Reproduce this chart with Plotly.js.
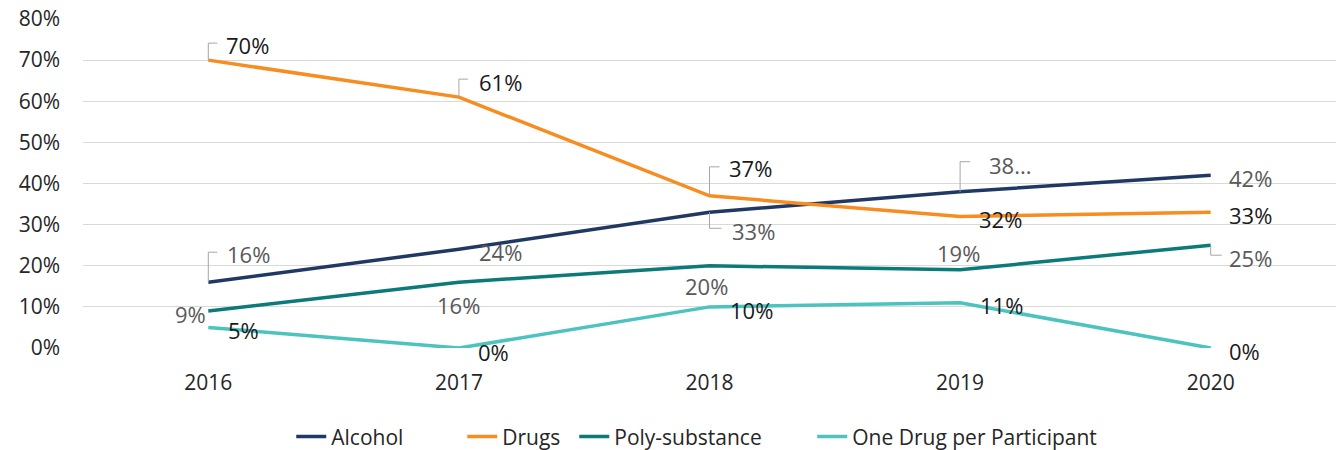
<!DOCTYPE html>
<html>
<head>
<meta charset="utf-8">
<script src="https://cdn.plot.ly/plotly-3.0.1.min.js"></script>
<style>
  html, body { margin: 0; padding: 0; background: #fff; }
  #chart { width: 1336px; height: 450px; }
</style>
</head>
<body>
<div id="chart"></div>
<script>
// Share of cases by substance type, 2016-2020 (percent)
const years = ['2016', '2017', '2018', '2019', '2020'];
const alcohol = [16, 24, 33, 38, 42];
const drugs = [70, 61, 37, 32, 33];
const poly = [9, 16, 20, 19, 25];
const oneDrug = [5, 0, 10, 11, 0];
const yTicks = [0, 10, 20, 30, 40, 50, 60, 70, 80];

const FONT = '"Open Sans", "Noto Sans", sans-serif';
const GREY_LABEL = '#595959';
const DARK_LABEL = '#1a1a1a';

const series = [
  { name: 'Alcohol', values: alcohol, color: '#203864', labelColor: GREY_LABEL, legendWidth: 126 },
  { name: 'Drugs', values: drugs, color: '#F78C20', labelColor: DARK_LABEL, legendWidth: 67 },
  { name: 'Poly-substance', values: poly, color: '#0B7A78', labelColor: GREY_LABEL, legendWidth: 193 },
  { name: 'One Drug per Participant', values: oneDrug, color: '#4CC3BE', labelColor: DARK_LABEL, legendWidth: 260 }
];

// Label placement per series and year: anchor side, pixel shift (x right, y down),
// optional elbow leader [rise, run] in pixels, optional text ending.
const placement = [
  [ // Alcohol
    { a: 'left', dx: 17, dy: -28, leader: [30, 9] },
    { a: 'left', dx: 18, dy: 3 },
    { a: 'left', dx: 20, dy: 19, leader: [-16, 12] },
    { a: 'left', dx: 27, dy: -27, leader: [30, 10], ending: '...' },
    { a: 'left', dx: 16, dy: 3 }
  ],
  [ // Drugs
    { a: 'left', dx: 16, dy: -15, leader: [17, 9] },
    { a: 'left', dx: 18, dy: -15, leader: [18, 9] },
    { a: 'left', dx: 17, dy: -28, leader: [29, 10] },
    { a: 'left', dx: 17, dy: 3 },
    { a: 'left', dx: 16, dy: 3 }
  ],
  [ // Poly-substance
    { a: 'right', dx: 0, dy: 3 },
    { a: 'center', dx: 0, dy: 23 },
    { a: 'center', dx: -3, dy: 20 },
    { a: 'center', dx: -2, dy: -17 },
    { a: 'left', dx: 16, dy: 13, leader: [-10, 11] }
  ],
  [ // One Drug per Participant
    { a: 'left', dx: 18, dy: 3 },
    { a: 'left', dx: 17, dy: 4 },
    { a: 'left', dx: 18, dy: 3 },
    { a: 'left', dx: 18, dy: 2 },
    { a: 'left', dx: 16, dy: 3 }
  ]
];

const traces = series.map(s => ({
  type: 'scatter',
  mode: 'lines',
  name: s.name,
  x: years.map((_, i) => i),
  y: s.values,
  line: { color: s.color, width: 3.5 },
  legendwidth: s.legendWidth,
  hoverinfo: 'x+y+name'
}));

const annotations = [];
const shapes = [];
series.forEach((s, si) => {
  s.values.forEach((v, i) => {
    const p = placement[si][i];
    annotations.push({
      xref: 'x', yref: 'y', x: i, y: v,
      text: v + (p.ending || '%'),
      showarrow: false,
      xanchor: p.a, yanchor: 'middle',
      xshift: p.dx, yshift: -p.dy,
      font: { family: FONT, size: 22, color: s.labelColor }
    });
    if (p.leader) {
      const [rise, run] = p.leader;
      shapes.push({
        type: 'path',
        xref: 'x', yref: 'y',
        xsizemode: 'pixel', ysizemode: 'pixel',
        xanchor: i, yanchor: v,
        path: `M0,0 L0,${rise} L${run},${rise}`,
        line: { color: '#a6a6a6', width: 1 }
      });
    }
  });
});

const layout = {
  width: 1336,
  height: 450,
  margin: { l: 83, r: 0, t: 19, b: 102 },
  paper_bgcolor: '#ffffff',
  plot_bgcolor: '#ffffff',
  font: { family: FONT, size: 21, color: '#262626' },
  showlegend: true,
  legend: {
    orientation: 'h',
    xref: 'container', yref: 'container',
    x: 0.218, xanchor: 'left',
    y: 0.029, yanchor: 'middle',
    font: { family: FONT, size: 21, color: '#262626' },
    itemwidth: 30,
    tracegroupgap: 0
  },
  xaxis: {
    type: 'linear',
    range: [-0.5, 4.5],
    tickvals: years.map((_, i) => i),
    ticktext: years,
    showgrid: false,
    zeroline: false,
    showline: false,
    ticks: '',
    ticklabelstandoff: 20,
    tickfont: { family: FONT, size: 21, color: '#262626' },
    fixedrange: true
  },
  yaxis: {
    range: [0, 80],
    tickvals: yTicks,
    ticktext: yTicks.map(t => t + '%'),
    showgrid: true,
    gridcolor: '#d9d9d9',
    gridwidth: 1,
    zeroline: false,
    showline: false,
    ticks: '',
    ticklabelstandoff: 22,
    tickfont: { family: FONT, size: 21, color: '#262626' },
    fixedrange: true
  },
  annotations: annotations,
  shapes: shapes
};

Plotly.newPlot('chart', traces, layout, { displayModeBar: false, staticPlot: true });
</script>
</body>
</html>
